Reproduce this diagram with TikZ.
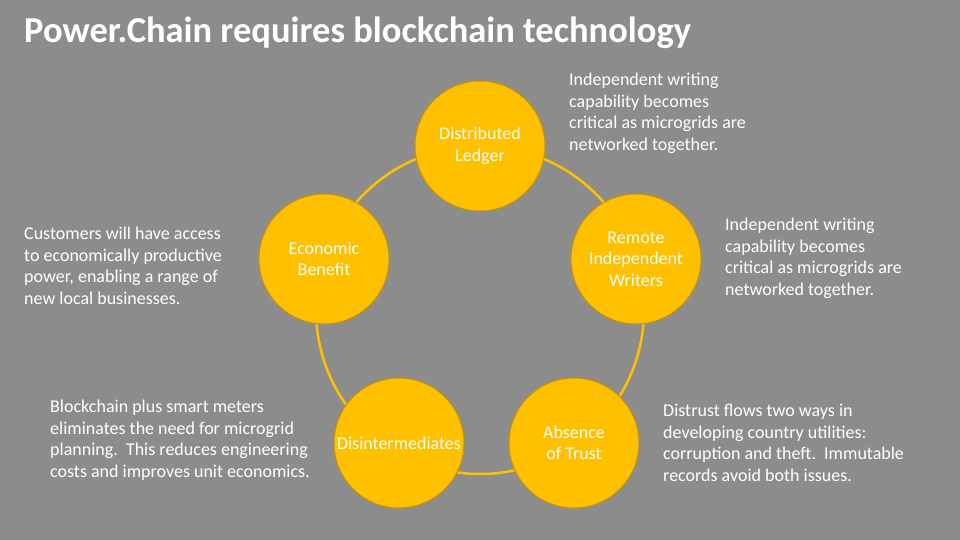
\documentclass[tikz,border=0pt]{standalone}
\usepackage{fontspec}
\setmainfont{Carlito}
\definecolor{bg}{HTML}{8C8C8C}
\definecolor{gold}{HTML}{FFC000}
\definecolor{goldedge}{HTML}{C89400}
\begin{document}
\begin{tikzpicture}[x=1pt,y=-1pt,
  bubble/.style={circle,fill=gold,draw=goldedge,line width=1pt,minimum size=130pt,inner sep=0pt,text=white,align=center,font=\fontsize{18}{21.5}\selectfont},
  note/.style={text=white,align=left,anchor=north west,inner sep=0pt,font=\fontsize{18}{21.6}\selectfont},
  ring/.style={draw=gold,line width=2.5pt}]
\fill[bg] (0,0) rectangle (960,540);
\useasboundingbox (0,0) rectangle (960,540);
\node[anchor=west,text=white,font=\fontsize{36.5}{40}\bfseries\selectfont,inner sep=0pt] (title) at (24,33) {Power.Chain requires blockchain technology};
\coordinate (c) at (480,310);
\draw[ring] (c) circle[radius=164];
\node[bubble] (dl) at (480,146) {Distributed\\Ledger};
\node[bubble] (rw) at (636,259) {Remote\\Independent\\Writers};
\node[bubble] (at) at (574,443) {Absence\\of Trust};
\node[bubble] (di) at (399,443) {Disintermediates};
\node[bubble] (eb) at (324,259) {Economic\\Benefit};
\node[note] (n1) at (569,73) {Independent writing\\capability becomes\\critical as microgrids are\\networked together.};
\node[note] (n2) at (725,218) {Independent writing\\capability becomes\\critical as microgrids are\\networked together.};
\node[note] (n3) at (663,404) {Distrust flows two ways in\\developing country utilities:\\corruption and theft.\ \ Immutable\\records avoid both issues.};
\node[note] (n4) at (50,400) {Blockchain plus smart meters\\eliminates the need for microgrid\\planning.\ \ This reduces engineering\\costs and improves unit economics.};
\node[note] (n5) at (24,227) {Customers will have access\\to economically productive\\power, enabling a range of\\new local businesses.};
\end{tikzpicture}
\end{document}
